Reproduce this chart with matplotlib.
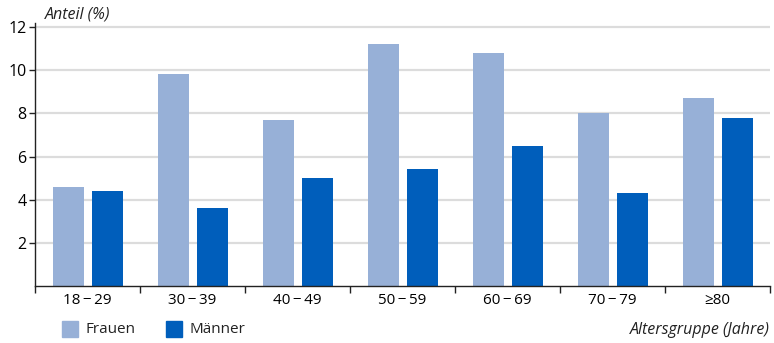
import matplotlib.pyplot as plt
import numpy as np
from matplotlib.patches import Rectangle

plt.rcParams['font.family'] = ['Open Sans', 'DejaVu Sans']

groups = ['18\u2009\u2212\u200929', '30\u2009\u2212\u200939', '40\u2009\u2212\u200949', '50\u2009\u2212\u200959',
          '60\u2009\u2212\u200969', '70\u2009\u2212\u200979', '\u226580']
frauen = [4.6, 9.8, 7.7, 11.2, 10.8, 8.0, 8.7]
maenner = [4.4, 3.6, 5.0, 5.4, 6.5, 4.3, 7.8]
yticks = [2, 4, 6, 8, 10, 12]

c_f = '#97b0d7'
c_m = '#005ebb'

fig = plt.figure(figsize=(7.74, 3.43), dpi=100)
ax = fig.add_axes([0.0452, 0.166, 0.9497, 0.768])

x = np.arange(len(groups))
w = 0.295
ax.bar(x - 0.182, frauen, w, color=c_f, zorder=2)
ax.bar(x + 0.190, maenner, w, color=c_m, zorder=2)

ax.set_xlim(-0.5, len(groups) - 0.5)
ax.set_ylim(0, 12.2)
ax.set_yticks(yticks)
ax.set_yticklabels([str(t) for t in yticks], fontsize=11.5)
ax.yaxis.grid(True, color='#dcdcdc', linewidth=1.6, zorder=0)

ax.set_xticks(x)
ax.set_xticklabels(groups, fontsize=11)
ax.tick_params(axis='x', which='major', length=0, pad=5)
ax.set_xticks(np.arange(len(groups) + 1) - 0.5, minor=True)
ax.tick_params(axis='x', which='minor', length=5, width=1, color='#222222', direction='out')
ax.tick_params(axis='y', length=4, width=1, color='#222222', pad=2)

for s in ['top', 'right']:
    ax.spines[s].set_visible(False)
for s in ['left', 'bottom']:
    ax.spines[s].set_color('#222222')
    ax.spines[s].set_linewidth(1)

fig.text(0.058, 0.958, 'Anteil (%)', fontsize=11.5, style='italic', va='center', ha='left', color='#222222')
fig.text(0.995, 0.038, 'Altersgruppe (Jahre)', fontsize=11.5, style='italic', va='center', ha='right', color='#222222')

# legend
for lx, col, lab in [(0.080, c_f, 'Frauen'), (0.214, c_m, 'M\u00e4nner')]:
    fig.patches.append(Rectangle((lx, 0.018), 0.0207, 0.045, transform=fig.transFigure, color=col))
    fig.text(lx + 0.031, 0.038, lab, fontsize=11, va='center', ha='left', color='#222222')

fig.savefig('out.png', dpi=100)
